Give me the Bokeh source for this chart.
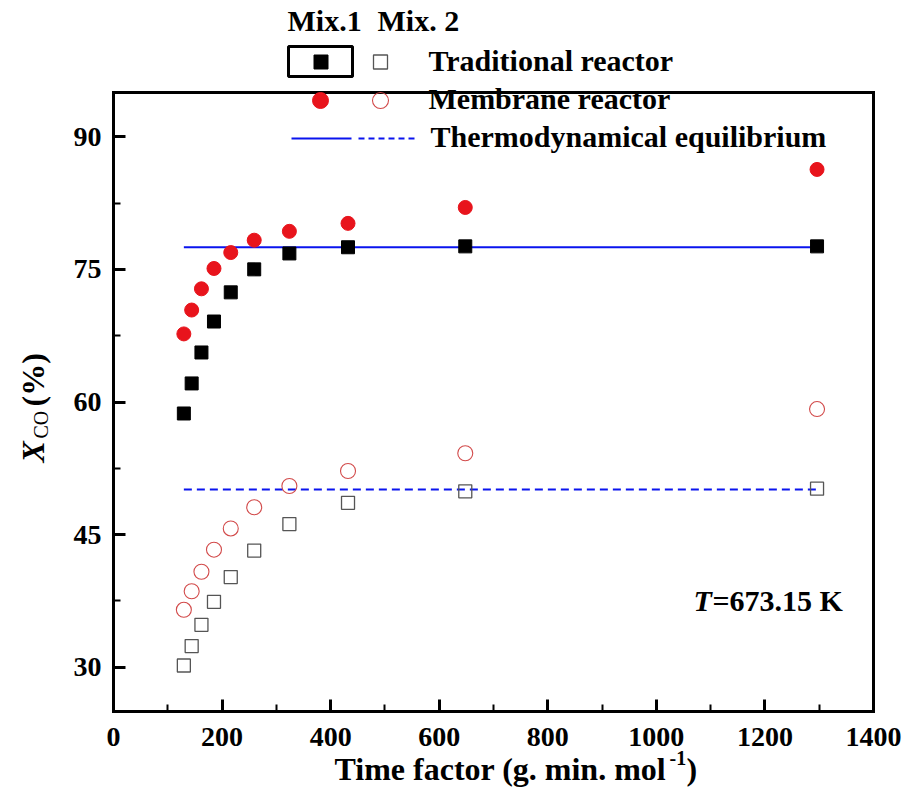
import numpy as np
from bokeh.plotting import figure
from bokeh.models import FixedTicker, Label, BoxAnnotation, Arrow, LinearAxis
from bokeh.embed import file_html
from bokeh.resources import INLINE

# ---- data ----
time_factor = [129.6, 144.0, 162.0, 185.1, 216.0, 259.2, 324.0, 432.0, 648.0, 1296.0]
trad_mix1 = [58.7, 62.1, 65.6, 69.1, 72.4, 75.0, 76.8, 77.5, 77.6, 77.6]
memb_mix1 = [67.7, 70.4, 72.8, 75.1, 76.9, 78.3, 79.3, 80.2, 82.0, 86.3]
trad_mix2 = [30.2, 32.4, 34.8, 37.4, 40.2, 43.2, 46.2, 48.6, 49.9, 50.2]
memb_mix2 = [36.5, 38.6, 40.8, 43.3, 45.7, 48.1, 50.5, 52.2, 54.2, 59.2]
equil_mix1 = 77.5
equil_mix2 = 50.1
x_ticks = [0, 200, 400, 600, 800, 1000, 1200, 1400]
x_minor = [100, 300, 500, 700, 900, 1100, 1300]
y_ticks = [30, 45, 60, 75, 90]
y_minor = [37.5, 52.5, 67.5, 82.5]

X0, X1 = 0, 1400
Y0, Y1 = 25, 95
W, H = 924, 789
FL, FT, FR, FB = 113, 92, 873, 711
FW, FH = FR - FL, FB - FT

SERIF = "Liberation Serif"
RED = "#e8141c"
RED_OPEN = "#d24a4a"
BLUE = "#0a14ee"

def dx(px):
    return X0 + (px - FL) * (X1 - X0) / FW

def dy(py):
    return Y1 - (py - FT) * (Y1 - Y0) / FH

# the drawing area spans the whole page; the axes sit at fixed data locations
p = figure(width=W, height=H, x_range=(dx(0), dx(W)), y_range=(dy(H), dy(0)),
           output_backend="svg", toolbar_location=None,
           x_axis_location=None, y_axis_location=None,
           min_border=0, min_border_left=0, min_border_right=0,
           min_border_top=0, min_border_bottom=0)
p.grid.visible = False
p.background_fill_color = "white"
p.border_fill_color = "white"
p.outline_line_color = None

def style_axis(ax, labels=True, ticks=True):
    ax.axis_line_width = 3
    ax.axis_line_color = "black"
    ax.axis_line_cap = "square"
    if ticks:
        ax.major_tick_line_width = 3
        ax.major_tick_line_color = "black"
        ax.minor_tick_line_width = 2
        ax.minor_tick_line_color = "black"
        ax.major_tick_in = 12
        ax.major_tick_out = 0
        ax.minor_tick_in = 7
        ax.minor_tick_out = 0
    else:
        ax.major_tick_line_color = None
        ax.minor_tick_line_color = None
    if labels:
        ax.major_label_text_font = SERIF
        ax.major_label_text_font_style = "bold"
        ax.major_label_text_font_size = "28px"
        ax.major_label_text_color = "black"
    else:
        ax.major_label_text_color = None

xaxis = LinearAxis(fixed_location=Y0, bounds=(X0, X1),
                   ticker=FixedTicker(ticks=x_ticks, minor_ticks=x_minor))
style_axis(xaxis)
xaxis.major_label_standoff = 16
p.add_layout(xaxis, "below")

yaxis = LinearAxis(fixed_location=X0, bounds=(Y0, Y1),
                   ticker=FixedTicker(ticks=y_ticks, minor_ticks=y_minor))
style_axis(yaxis)
yaxis.major_label_standoff = 12
p.add_layout(yaxis, "left")

raxis = LinearAxis(fixed_location=X1, bounds=(Y0, Y1), ticker=FixedTicker(ticks=[]))
style_axis(raxis, labels=False, ticks=False)
p.add_layout(raxis, "right")

taxis = LinearAxis(fixed_location=Y1, bounds=(X0, X1), ticker=FixedTicker(ticks=[]))
style_axis(taxis, labels=False, ticks=False)
p.add_layout(taxis, "above")

# equilibrium lines
x_eq = [time_factor[0], time_factor[-1]]
p.line(x_eq, [equil_mix1, equil_mix1], line_color=BLUE, line_width=2)
p.line(x_eq, [equil_mix2, equil_mix2], line_color=BLUE, line_width=2, line_dash="8 5")

# markers
p.scatter(time_factor, trad_mix1, marker="square", size=13, fill_color="black", line_color="black")
p.scatter(time_factor, memb_mix1, marker="circle", size=14, fill_color=RED, line_color=RED)
p.scatter(time_factor, trad_mix2, marker="square", size=13, fill_color=None, line_color="#555555", line_width=1.3)
p.scatter(time_factor, memb_mix2, marker="circle", size=15, fill_color=None, line_color=RED_OPEN, line_width=1.1)

def label(px, py, text, size=30, style="bold", angle=0.0):
    # (px, py): wanted baseline start in page pixels
    off = 0.39 * size
    if angle:
        px = px - off
    else:
        py = py - off
    p.add_layout(Label(x=dx(px), y=dy(py), text=text, text_font=SERIF,
                       text_font_style=style, text_font_size=f"{size}px",
                       text_align="left", text_baseline="alphabetic",
                       text_color="black", angle=angle))

def box(cx, cy, size, fill, line, lw=1.0, radius=0):
    h = size / 2
    p.add_layout(BoxAnnotation(left=dx(cx - h), right=dx(cx + h), top=dy(cy - h), bottom=dy(cy + h),
                               fill_color=fill if fill else "white", fill_alpha=1.0 if fill else 0.0,
                               line_color=line, line_width=lw, line_alpha=1.0,
                               border_radius=int(radius), level="overlay"))

def seg(x1, x2, y, dash="solid"):
    p.add_layout(Arrow(end=None, x_start=dx(x1), y_start=dy(y), x_end=dx(x2), y_end=dy(y),
                       line_color=BLUE, line_width=2, line_dash=dash))

# legend
label(287, 32, "Mix.1")
label(377, 32, "Mix. 2")
p.add_layout(BoxAnnotation(left=dx(288), right=dx(352), top=dy(46), bottom=dy(76),
                           fill_alpha=0.0, line_color="black", line_width=3, line_alpha=1.0, level="overlay"))
box(320.5, 61.5, 14, "black", "black")
box(380, 61.5, 14, None, "#555555", 1.3)
label(428, 72, "Traditional reactor")
box(320, 100, 16, RED, RED, 1.0, 8)
box(380, 100, 16, None, RED_OPEN, 1.1, 8)
label(428, 110, "Membrane reactor")
seg(291, 351, 138)
seg(358, 418, 138, "6 4")
label(430, 148, "Thermodynamical equilibrium")

# annotation
label(693, 612, "T", size=30, style="bold italic")
label(712, 612, "=673.15 K", size=30)

# x-axis title
label(334, 781, "Time factor (g. min. mol", size=32)
label(669, 765, "-1", size=20)
label(686, 781, ")", size=32)

# y-axis title (rotated, reads upwards)
ang = np.pi / 2
label(45, 462, "X", size=32, style="bold italic", angle=ang)
label(48, 438, "CO", size=20, style="normal", angle=ang)
label(45, 406, "(%)", size=32, angle=ang)

open("out.html", "w").write(file_html(p, INLINE))
